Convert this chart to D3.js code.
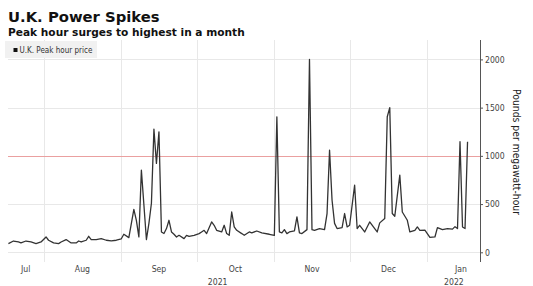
<!DOCTYPE html>
<html>
<head>
<meta charset="utf-8">
<script src="https://cdn.jsdelivr.net/npm/d3@7"></script>
<style>
  html, body { margin: 0; padding: 0; background: #fff; }
  svg { display: block; }
  text { font-family: "DejaVu Sans Condensed", "Liberation Sans Narrow", "DejaVu Sans", sans-serif; }
  .title { font-family: "DejaVu Sans", Verdana, sans-serif; font-weight: bold; }
</style>
</head>
<body>
<script>
// ---- data ----
const dates = [
  "2021-07-18","2021-07-20","2021-07-22","2021-07-23","2021-07-25","2021-07-27","2021-07-29","2021-07-31",
  "2021-08-02","2021-08-03","2021-08-05","2021-08-07","2021-08-08","2021-08-10","2021-08-12","2021-08-14",
  "2021-08-15","2021-08-16","2021-08-18","2021-08-19","2021-08-20","2021-08-22","2021-08-24","2021-08-26",
  "2021-08-28","2021-08-30",
  "2021-09-01","2021-09-02","2021-09-04","2021-09-06","2021-09-07","2021-09-08","2021-09-09","2021-09-11",
  "2021-09-12","2021-09-13","2021-09-14","2021-09-15","2021-09-16","2021-09-17","2021-09-18","2021-09-19",
  "2021-09-20","2021-09-21","2021-09-22","2021-09-23","2021-09-24","2021-09-26","2021-09-27","2021-09-28",
  "2021-09-30",
  "2021-10-02","2021-10-03","2021-10-04","2021-10-05","2021-10-07","2021-10-08","2021-10-09","2021-10-11",
  "2021-10-12","2021-10-13","2021-10-14","2021-10-15","2021-10-16","2021-10-17","2021-10-19","2021-10-20",
  "2021-10-22","2021-10-23","2021-10-25","2021-10-27","2021-10-30",
  "2021-11-01","2021-11-02","2021-11-03","2021-11-04","2021-11-05","2021-11-06","2021-11-07","2021-11-09",
  "2021-11-10","2021-11-11","2021-11-12","2021-11-14","2021-11-15","2021-11-16","2021-11-17","2021-11-19",
  "2021-11-21","2021-11-22","2021-11-23","2021-11-24","2021-11-25","2021-11-26","2021-11-28","2021-11-29",
  "2021-11-30",
  "2021-12-01","2021-12-03","2021-12-04","2021-12-05","2021-12-07","2021-12-09","2021-12-11","2021-12-12",
  "2021-12-13","2021-12-15","2021-12-16","2021-12-17","2021-12-18","2021-12-19","2021-12-21","2021-12-22",
  "2021-12-24","2021-12-25","2021-12-27","2021-12-28","2021-12-29","2021-12-31",
  "2022-01-02","2022-01-04","2022-01-05","2022-01-07","2022-01-09","2022-01-11","2022-01-12","2022-01-13",
  "2022-01-14","2022-01-15","2022-01-16","2022-01-17"
];
const peakPrice = [
  90,117,107,97,117,107,90,107,
  159,125,97,90,107,132,97,97,
  117,107,125,166,132,132,142,125,
  118,125,
  140,187,152,446,332,159,851,132,
  300,509,1277,921,1249,211,195,246,
  332,211,187,159,176,142,176,166,
  176,
  194,211,228,194,315,280,228,211,
  280,194,176,418,263,228,194,176,
  211,201,221,201,187,
  176,1405,211,201,235,194,211,221,
  367,201,194,235,2000,235,228,246,
  235,402,1059,540,300,246,256,402,
  263,
  280,696,246,280,211,315,246,211,
  305,350,1405,1500,402,374,800,418,
  332,211,228,263,228,230,
  155,159,256,235,246,240,266,246,
  1146,263,246,1146
];
const seriesName = "U.K. Peak hour price";
const yTicks = [0, 500, 1000, 1500, 2000];
const referenceLevel = [1000];
const monthLabels = ["Jul","Aug","Sep","Oct","Nov","Dec","Jan"];
const yearLabels = ["2021","2022"];
const xDomain = ["2021-07-17T20:00","2022-01-22T04:00"];
const titleText = "U.K. Power Spikes";
const subtitleText = "Peak hour surges to highest in a month";
const yAxisTitle = "Pounds per megawatt-hour";

// ---- chart ----
const W = 533, H = 286;
const parseDay = d3.timeParse("%Y-%m-%d");
const parseDT = d3.timeParse("%Y-%m-%dT%H:%M");
const data = dates.map((d, i) => ({ date: parseDay(d), value: peakPrice[i] }));

const left = 8, right = 480.5, gridTop = 40, gridBottom = 262;
const x = d3.scaleTime().domain(xDomain.map(parseDT)).range([left, right]);
const y = d3.scaleLinear().domain([0, 2000]).range([252.3, 59.4]);

const svg = d3.select("body").append("svg").attr("width", W).attr("height", H);

// titles
svg.append("text").attr("class", "title").attr("x", 8).attr("y", 21.5)
  .attr("font-size", 14.8).attr("fill", "#111").text(titleText);
svg.append("text").attr("class", "title").attr("x", 8).attr("y", 35.5)
  .attr("font-size", 10.6).attr("fill", "#111").text(subtitleText);

// vertical month gridlines
const monthStarts = d3.timeMonth.range(d3.timeMonth.ceil(x.domain()[0]), x.domain()[1]);
svg.append("g").selectAll("line").data(monthStarts).join("line")
  .attr("x1", d => Math.round(x(d)) + 0.5).attr("x2", d => Math.round(x(d)) + 0.5)
  .attr("y1", gridTop).attr("y2", gridBottom)
  .attr("stroke", "#e8e8e8").attr("stroke-width", 1);

// horizontal gridlines
svg.append("g").selectAll("line").data(yTicks.filter(t => !referenceLevel.includes(t))).join("line")
  .attr("x1", left).attr("x2", right)
  .attr("y1", d => Math.round(y(d)) + 0.5).attr("y2", d => Math.round(y(d)) + 0.5)
  .attr("stroke", "#e8e8e8").attr("stroke-width", 1);

// legend
const lg = svg.append("g");
lg.append("rect").attr("x", 5).attr("y", 41).attr("width", 92).attr("height", 17).attr("fill", "#f1f1f1");
lg.append("rect").attr("x", 13.5).attr("y", 48).attr("width", 4).attr("height", 4).attr("fill", "#111");
lg.append("text").attr("x", 19.5).attr("y", 52.8).attr("font-size", 8).attr("fill", "#333").text(seriesName);

// reference line
svg.append("g").selectAll("line").data(referenceLevel).join("line")
  .attr("x1", left).attr("x2", right)
  .attr("y1", d => Math.round(y(d)) + 0.5).attr("y2", d => Math.round(y(d)) + 0.5)
  .attr("stroke", "#eaa0a0").attr("stroke-width", 1);

// the line
const line = d3.line().x(d => x(d.date)).y(d => y(d.value)).curve(d3.curveLinear);
svg.append("path").datum(data).attr("d", line)
  .attr("fill", "none").attr("stroke", "#333").attr("stroke-width", 1.3)
  .attr("stroke-linejoin", "round");

// right axis
const yAxis = d3.axisRight(y).tickValues(yTicks).tickFormat(d3.format("d")).tickSize(2.5).tickPadding(2);
const ag = svg.append("g").attr("transform", `translate(${right},0)`).call(yAxis);
ag.select(".domain").remove();
ag.selectAll("text").attr("font-size", 8.6).attr("fill", "#444")
  .attr("font-family", "'DejaVu Sans Condensed','Liberation Sans Narrow',sans-serif");
ag.selectAll(".tick line").attr("stroke", "#555");
svg.append("line").attr("x1", right).attr("x2", right).attr("y1", gridTop).attr("y2", gridBottom)
  .attr("stroke", "#555").attr("stroke-width", 1);

// axis title
svg.append("text").attr("transform", `translate(513,152) rotate(90)`)
  .attr("text-anchor", "middle").attr("font-size", 10.3).attr("fill", "#222")
  .text(yAxisTitle);

// month labels centered on the visible part of each month
const d0 = x.domain()[0], d1 = x.domain()[1];
const monthBounds = [d3.timeMonth.floor(d0)].concat(monthStarts);
const labelEndExtra = 14; // last month label shifted as in the source
svg.append("g").selectAll("text").data(monthBounds).join("text")
  .attr("x", (d, i) => {
    const a = x(d < d0 ? d0 : d);
    const next = d3.timeMonth.offset(d, 1);
    const b = next > d1 ? x(d1) + labelEndExtra : x(next);
    return (a + b) / 2;
  })
  .attr("y", 272).attr("text-anchor", "middle").attr("font-size", 8.6).attr("fill", "#444")
  .text((d, i) => monthLabels[i]);

// year labels
const yearStarts = [d0, d3.timeYear.ceil(d0)];
svg.append("g").selectAll("text").data(yearStarts).join("text")
  .attr("x", (d, i) => {
    const a = x(d);
    const b = i < yearStarts.length - 1 ? x(yearStarts[i + 1]) : x(d1);
    return (a + b) / 2;
  })
  .attr("y", 285).attr("text-anchor", "middle").attr("font-size", 8.6).attr("fill", "#444")
  .text((d, i) => yearLabels[i]);
</script>
</body>
</html>
